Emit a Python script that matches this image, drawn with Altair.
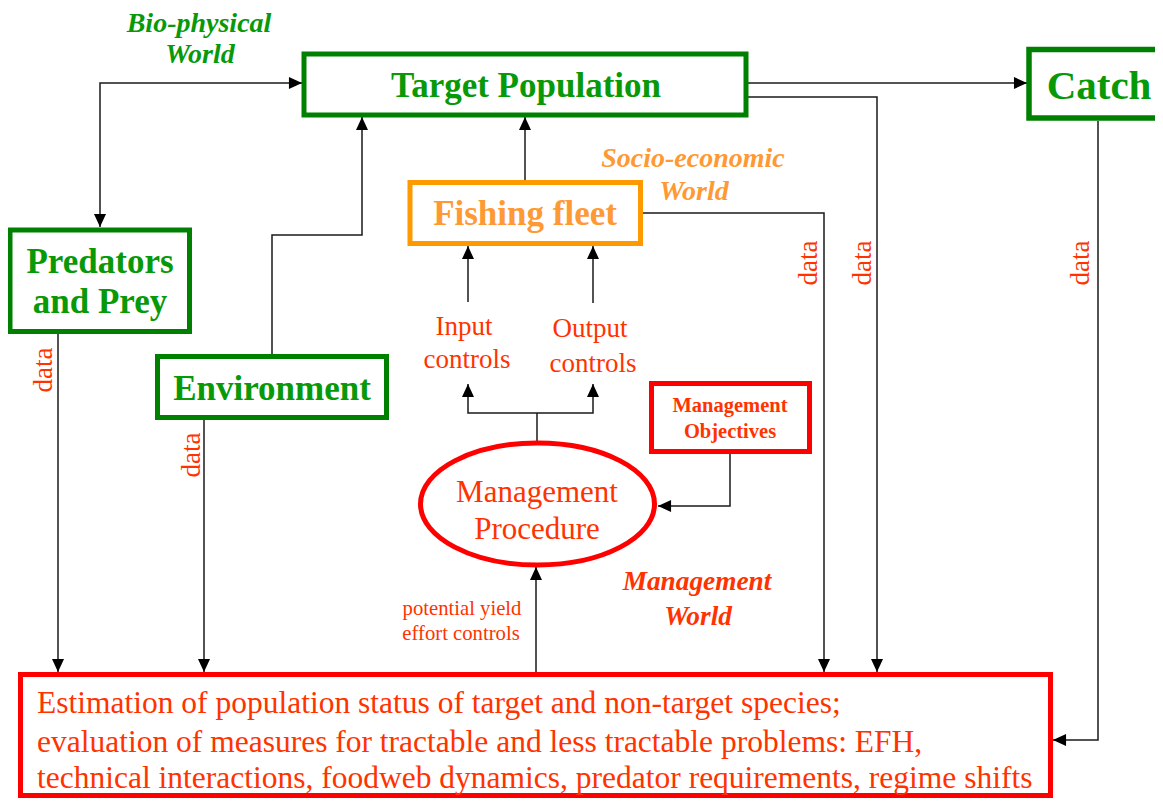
import altair as alt
import pandas as pd

# ---------------- canvas ----------------
W, H = 1147, 790          # plot area (page margin 8px)
XD = [8, 8 + W]           # data units == page pixels
YD = [8, 8 + H]

GREEN, GREEN_T = "#008000", "#079907"
ORANGE, ORANGE_T = "#FF9900", "#FF9933"
RED, RED_T = "#FF0000", "#FF3300"
LINE = "#1a1a1a"
FONT = "Liberation Serif"

# ---------------- boxes ----------------
box_names = ["Target Population", "Catch", "Predators and Prey", "Environment",
             "Fishing fleet", "Management Objectives", "Estimation"]
box_x1 = [304, 1029, 10, 157.5, 410, 651.5, 20.5]
box_x2 = [746, 1185, 189.5, 386.5, 640.5, 809.5, 1050.5]
box_y1 = [54, 49.5, 230, 356.5, 182.5, 383.5, 674.5]
box_y2 = [115, 118, 331.5, 417.5, 243.5, 451.5, 795.5]
box_col = [GREEN, GREEN, GREEN, GREEN, ORANGE, RED, RED]
box_sw = [5, 5.5, 5, 5, 5, 5, 5]

# ---------------- ellipse (Management Procedure) ----------------
ell_x, ell_y = [537.5], [504]
ell_w = [234]  # stroke-centre width; height ratio set in shape
ELL_SHAPE = ("M -1 0 A 1 0.5214 0 1 1 1 0 "
             "A 1 0.5214 0 1 1 -1 0 Z")

# ---------------- connectors ----------------
conn_paths = {
    "bio": [(100, 227), (100, 83), (302, 83)],
    "tp_catch": [(746, 83), (1027, 83)],
    "tp_est": [(746, 97), (877, 97), (877, 672)],
    "fleet_tp": [(525, 181), (525, 117)],
    "fleet_est": [(643, 213), (824, 213), (824, 672)],
    "catch_est": [(1098, 121), (1098, 740), (1053, 740)],
    "pred_est": [(58, 334), (58, 672)],
    "env_tp": [(272, 354), (272, 235), (362, 235), (362, 117)],
    "env_est": [(204, 420), (204, 672)],
    "in_fleet": [(468, 302), (468, 246)],
    "out_fleet": [(593, 303), (593, 246)],
    "mp_stem": [(537, 441), (537, 413)],
    "mp_ctrl": [(468, 384), (468, 413), (593, 413), (593, 384)],
    "mo_mp": [(730, 454), (730, 506), (658, 506)],
    "est_mp": [(536, 672), (536, 567)],
}

# arrow tips and direction (0 up, 90 right, 180 down, 270 left)
arrow_x = [302, 100, 1027, 877, 525, 824, 1053, 58, 362, 204, 468, 593, 468, 593, 658, 536]
arrow_y = [83, 227, 83, 672, 117, 672, 740, 672, 117, 672, 246, 246, 384, 384, 506, 567]
arrow_a = [90, 180, 90, 180, 0, 180, 270, 180, 0, 180, 0, 0, 0, 0, 270, 0]
ARROW_SHAPE = "M 0 0 L -0.92 2 L 0.92 2 Z"

# ---------------- texts ----------------
# kind: b = bold, bi = bold italic, r = regular, rl = regular left, rv = vertical
txt = [
    ("Bio-physical", 199, 32, 28, GREEN_T, "bi"),
    ("World", 200, 63, 28, GREEN_T, "bi"),
    ("Target Population", 526, 97, 35, GREEN_T, "b"),
    ("Catch", 1099, 99, 41, GREEN_T, "b"),
    ("Socio-economic", 693, 167, 28, ORANGE_T, "bi"),
    ("World", 694, 200, 28, ORANGE_T, "bi"),
    ("Fishing fleet", 525, 225, 35, ORANGE_T, "b"),
    ("Predators", 100, 273, 35, GREEN_T, "b"),
    ("and Prey", 100, 313, 35, GREEN_T, "b"),
    ("Environment", 272, 400, 35, GREEN_T, "b"),
    ("Input", 464, 335, 27, RED_T, "r"),
    ("controls", 467, 368, 27, RED_T, "r"),
    ("Output", 590, 337, 27, RED_T, "r"),
    ("controls", 593, 372, 27, RED_T, "r"),
    ("Management", 730, 412, 20.5, RED_T, "b"),
    ("Objectives", 730, 438, 20.5, RED_T, "b"),
    ("Management", 537, 502, 31, RED_T, "r"),
    ("Procedure", 537, 539, 31, RED_T, "r"),
    ("Management", 697, 590, 27.3, RED_T, "bi"),
    ("World", 698, 625, 27.3, RED_T, "bi"),
    ("potential yield", 462, 615, 20.7, RED_T, "r"),
    ("effort controls", 461, 640, 20.7, RED_T, "r"),
    ("Estimation of population status of target and non-target species;", 37, 713, 31.5, RED_T, "rl"),
    ("evaluation of measures for tractable and less tractable problems: EFH,", 37, 752, 31.5, RED_T, "rl"),
    ("technical interactions, foodweb dynamics, predator requirements, regime shifts", 37, 788, 31.5, RED_T, "rl"),
    ("data", 52, 370, 27, RED_T, "rv"),
    ("data", 200, 455, 27, RED_T, "rv"),
    ("data", 817, 263, 27, RED_T, "rv"),
    ("data", 871, 263, 27, RED_T, "rv"),
    ("data", 1089, 263, 27, RED_T, "rv"),
]

# ---------------- build tables ----------------
boxes = pd.DataFrame({"name": box_names, "x1": box_x1, "x2": box_x2,
                      "y1": box_y1, "y2": box_y2, "col": box_col, "sw": box_sw})
ell = pd.DataFrame({"x": ell_x, "y": ell_y, "s": [w * w for w in ell_w]})
rows = []
for pid, pts in conn_paths.items():
    for i, (px, py) in enumerate(pts):
        rows.append({"path": pid, "seq": i, "x": px, "y": py})
lines = pd.DataFrame(rows)
arrows = pd.DataFrame({"x": arrow_x, "y": arrow_y, "a": arrow_a})
texts = pd.DataFrame(txt, columns=["t", "x", "y", "size", "col", "kind"])

xs = alt.Scale(domain=XD, nice=False, zero=False)
ys = alt.Scale(domain=YD, nice=False, zero=False, reverse=True)
X = lambda f: alt.X(f, type="quantitative", scale=xs, axis=None)
Y = lambda f: alt.Y(f, type="quantitative", scale=ys, axis=None)

line_layer = alt.Chart(lines).mark_line(color=LINE, strokeWidth=1.5).encode(
    x=X("x"), y=Y("y"), detail="path:N", order="seq:Q")

arrow_layer = alt.Chart(arrows).mark_point(
    shape=ARROW_SHAPE, filled=True, color="black", opacity=1, size=170).encode(
    x=X("x"), y=Y("y"), angle=alt.Angle("a:Q", scale=None))

rect_layer = alt.Chart(boxes).mark_rect(fill="white", clip=True).encode(
    x=X("x1"), x2="x2", y=Y("y1"), y2="y2",
    stroke=alt.Stroke("col:N", scale=None),
    strokeWidth=alt.StrokeWidth("sw:Q", scale=None))

ell_layer = alt.Chart(ell).mark_point(
    shape=ELL_SHAPE, filled=False, color=RED, strokeWidth=5, opacity=1).encode(
    x=X("x"), y=Y("y"), size=alt.Size("s:Q", scale=None))


def text_layer(kind, **kw):
    return alt.Chart(texts).transform_filter(alt.datum.kind == kind).mark_text(
        font=FONT, baseline="alphabetic", **kw).encode(
        x=X("x"), y=Y("y"), text="t:N",
        color=alt.Color("col:N", scale=None),
        size=alt.Size("size:Q", scale=None))


chart = alt.layer(
    line_layer,
    rect_layer,
    ell_layer,
    arrow_layer,
    text_layer("b", fontWeight="bold", align="center"),
    text_layer("bi", fontWeight="bold", fontStyle="italic", align="center"),
    text_layer("r", align="center"),
    text_layer("rl", align="left"),
    text_layer("rv", align="center", angle=270),
).properties(
    width=W, height=H, padding=0,
    autosize=alt.AutoSizeParams(type="none"),
).configure_view(stroke="transparent", strokeWidth=0)

chart.save("out.html", embed_options={"renderer": "svg", "actions": False})
